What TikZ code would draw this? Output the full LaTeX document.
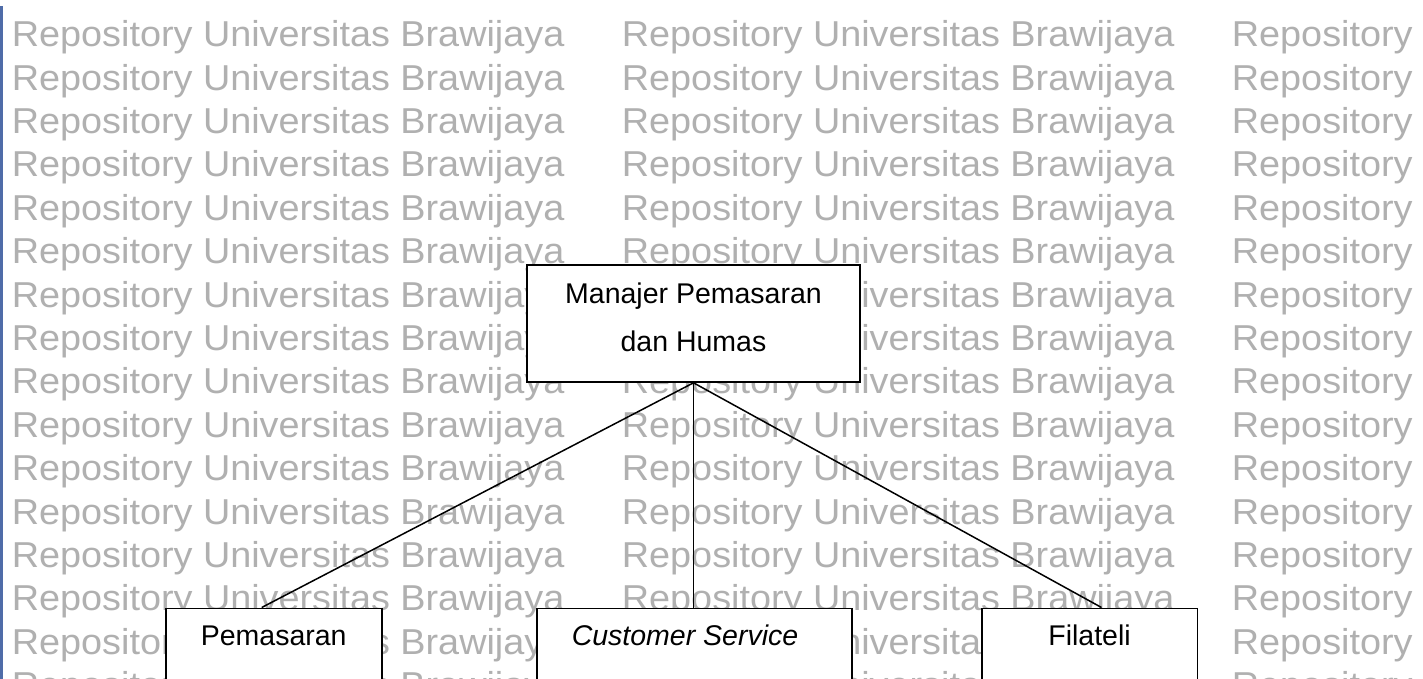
\documentclass[tikz,border=0pt]{standalone}
\usepackage{fontspec}
\setmainfont{Liberation Sans}
\newfontfamily\wmfont{Liberation Sans}[FakeStretch=1.05]
\usetikzlibrary{calc}
\definecolor{wmgray}{RGB}{176,176,176}
\definecolor{edgeblue}{RGB}{79,108,168}
\tikzset{
  wm/.style={anchor=base west, inner sep=0pt, text=wmgray, font=\wmfont\fontsize{36}{40}\selectfont},
  orgbox/.style={draw=black, line width=1.6pt, fill=white, inner sep=0pt},
  lbl/.style={anchor=base, inner sep=0pt, font=\fontsize{28.5}{34}\selectfont},
  conn/.style={draw=black, line width=1.5pt}
}
\begin{document}
\begin{tikzpicture}[x=1pt, y=-1pt]
\useasboundingbox (0,0) rectangle (1423,678);
\clip (0,0) rectangle (1423,678);
\fill[white] (0,0) rectangle (1423,678);
% watermark
\foreach \r in {0,...,15}{
  \foreach \c in {0,1}{
    \node[wm] (wm-\r-\c) at ({11.7+610*\c}, {46.7+43.4*\r}) {Repository Universitas Brawijaya};
  }
  \node[wm] (wm-\r-2) at (1231.7, {46.7+43.4*\r}) {Repository};
}
% left blue edge
\draw[edgeblue, line width=2.5pt] (1.25,6) -- (1.25,690);
% boxes
\node[orgbox, minimum width=333pt, minimum height=117pt] (mgr) at (693.5,323.5) {};
\node[lbl] (mgrt1) at (693.5,303.3) {Manajer Pemasaran};
\node[lbl] (mgrt2) at (693.5,351.7) {dan Humas};
\node[orgbox, minimum width=216pt, minimum height=100pt] (pem) at (273.7,658.3) {};
\node[orgbox, minimum width=315pt, minimum height=100pt] (cs) at (694.5,658.3) {};
\node[orgbox, minimum width=215.6pt, minimum height=100pt] (fil) at (1089.5,658.3) {};
\node[lbl] (pemt) at (273.7,645) {Pemasaran};
\node[lbl] (cst) at (685,645) {\itshape Customer Service};
\node[lbl] (filt) at (1089.5,645) {Filateli};
% connectors
\draw[conn] (mgr.south) -- ($(pem.north)+(-12,0)$);
\draw[conn] (mgr.south) -- (cs.north -| mgr.south);
\draw[conn] (mgr.south) -- ($(fil.north)+(12,0)$);
\end{tikzpicture}
\end{document}
